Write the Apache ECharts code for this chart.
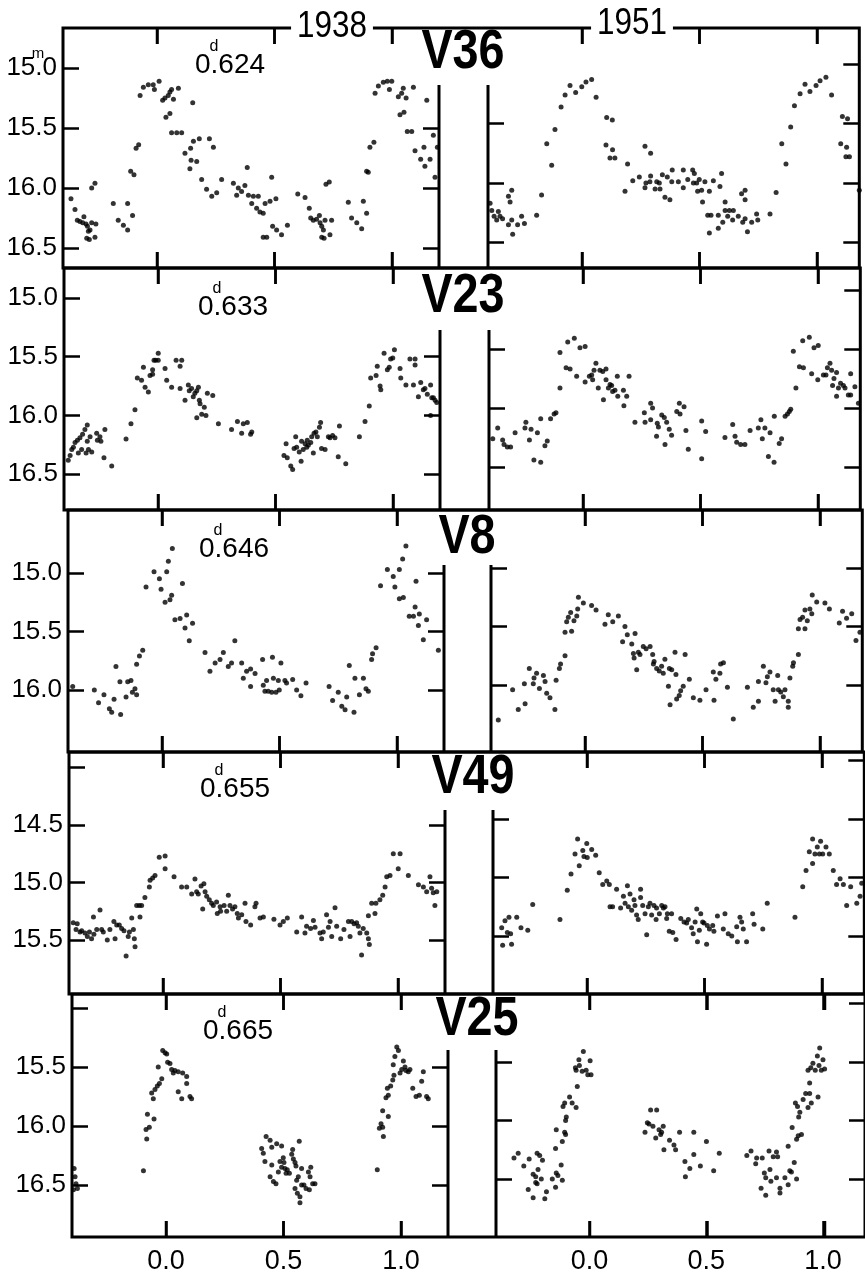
<!DOCTYPE html>
<html>
<head>
<meta charset="utf-8">
<script src="https://cdn.jsdelivr.net/npm/echarts@6/dist/echarts.min.js"></script>
<style>
  html, body { margin: 0; padding: 0; background: #fff; }
  #chart { width: 865px; height: 1282px; }
</style>
</head>
<body>
<div id="chart"></div>
<script>
// ---- data: [phase, magnitude] ----
const stars = ['V36', 'V23', 'V8', 'V49', 'V25'];
const periods = ['0.624', '0.633', '0.646', '0.655', '0.665'];
const years = ['1938', '1951'];
const phaseTicks = [0, 0.5, 1];
const phaseLabels = ['0.0', '0.5', '1.0'];
const magTicks = [[15, 15.5, 16, 16.5], [15, 15.5, 16, 16.5], [15, 15.5, 16], [14, 14.5, 15, 15.5], [15, 15.5, 16, 16.5]];
const magLabels = [[15, 15.5, 16, 16.5], [15, 15.5, 16, 16.5], [15, 15.5, 16], [14.5, 15, 15.5], [15.5, 16, 16.5]];
const gapTicks = [[15.5, 16, 16.5], [15.5, 16, 16.5], [15, 15.5, 16], [14.5, 15, 15.5], [15.5, 16, 16.5]];

const v36a = [[-0.366,16.09],[-0.349,16.18],[-0.339,16.27],[-0.328,16.28],[-0.316,16.29],[-0.311,16.24],[-0.302,16.30],[-0.296,16.32],[-0.292,16.36],[-0.285,16.35],[-0.278,16.29],[-0.260,16.30],[-0.299,16.42],[-0.288,16.43],[-0.264,16.41],[-0.278,16.00],[-0.264,15.96],[-0.186,16.13],[-0.165,16.27],[-0.143,16.31],[-0.125,16.35],[-0.125,16.13],[-0.104,16.23],[-0.112,15.86],[-0.098,15.89],[-0.089,15.67],[-0.078,15.64],[-0.072,15.23],[-0.058,15.16],[-0.037,15.14],[-0.016,15.14],[-0.011,15.18],[0.009,15.11],[0.024,15.27],[0.034,15.25],[0.048,15.23],[0.055,15.20],[0.070,15.26],[0.062,15.18],[0.091,15.17],[0.038,15.41],[0.055,15.38],[0.062,15.54],[0.084,15.54],[0.105,15.54],[0.152,15.29],[0.143,15.67],[0.155,15.61],[0.180,15.59],[0.223,15.59],[0.240,15.66],[0.119,15.71],[0.145,15.77],[0.169,15.78],[0.140,15.84],[0.190,15.93],[0.211,16.01],[0.233,16.07],[0.254,16.04],[0.275,15.93],[0.325,15.96],[0.339,16.06],[0.346,16.00],[0.360,16.03],[0.374,15.98],[0.384,15.83],[0.389,16.06],[0.410,16.07],[0.403,16.13],[0.431,16.07],[0.424,16.17],[0.438,16.20],[0.452,16.21],[0.460,16.13],[0.481,16.11],[0.488,15.91],[0.506,16.09],[0.452,16.41],[0.467,16.41],[0.492,16.32],[0.509,16.35],[0.530,16.39],[0.555,16.31],[0.599,16.05],[0.630,16.08],[0.648,16.17],[0.654,16.25],[0.665,16.27],[0.679,16.26],[0.691,16.23],[0.694,16.29],[0.701,16.32],[0.708,16.35],[0.715,16.27],[0.701,16.41],[0.711,16.42],[0.736,16.39],[0.743,16.27],[0.719,15.97],[0.733,15.95],[0.814,16.12],[0.828,16.25],[0.850,16.29],[0.871,16.34],[0.878,16.11],[0.892,16.21],[0.892,15.86],[0.899,15.87],[0.906,15.66],[0.923,15.62],[0.928,15.21],[0.942,15.15],[0.963,15.12],[0.980,15.11],[0.999,15.11],[0.989,15.18],[1.027,15.24],[1.041,15.21],[1.048,15.17],[1.060,15.25],[1.091,15.16],[1.034,15.39],[1.051,15.37],[1.065,15.53],[1.084,15.53],[1.098,15.69],[1.122,15.76],[1.140,15.82],[1.136,15.66],[1.148,15.27],[1.162,15.76],[1.176,15.56],[1.183,15.91],[1.193,15.66]];
const v36b = [[-0.391,16.17],[-0.384,16.23],[-0.374,16.28],[-0.356,16.24],[-0.349,16.28],[-0.363,16.31],[-0.338,16.30],[-0.313,16.11],[-0.299,16.06],[-0.306,16.16],[-0.313,16.35],[-0.299,16.31],[-0.295,16.43],[-0.274,16.35],[-0.257,16.28],[-0.245,16.34],[-0.193,16.27],[-0.172,16.10],[-0.129,15.85],[-0.150,15.67],[-0.115,15.55],[-0.089,15.36],[-0.072,15.26],[-0.051,15.18],[-0.027,15.24],[-0.001,15.19],[0.017,15.15],[0.041,15.13],[0.060,15.28],[0.105,15.45],[0.129,15.47],[0.102,15.68],[0.130,15.72],[0.119,15.79],[0.140,15.79],[0.194,15.84],[0.183,16.07],[0.216,15.98],[0.244,15.95],[0.268,15.69],[0.292,15.75],[0.268,16.04],[0.272,16.00],[0.289,15.99],[0.292,15.94],[0.311,16.05],[0.318,15.99],[0.329,16.00],[0.332,16.05],[0.342,15.93],[0.353,16.12],[0.363,15.95],[0.374,16.14],[0.382,15.99],[0.384,15.89],[0.410,15.99],[0.431,16.04],[0.431,15.89],[0.450,15.97],[0.471,15.89],[0.474,16.00],[0.478,15.92],[0.488,16.00],[0.499,15.97],[0.492,16.07],[0.509,16.06],[0.523,15.99],[0.542,16.07],[0.513,16.16],[0.535,16.27],[0.549,16.27],[0.559,15.98],[0.580,16.27],[0.542,16.42],[0.580,16.38],[0.587,16.03],[0.594,15.92],[0.599,16.33],[0.609,16.16],[0.609,16.23],[0.620,16.28],[0.627,16.23],[0.641,16.31],[0.644,16.23],[0.665,16.28],[0.679,16.09],[0.694,16.06],[0.694,16.14],[0.684,16.33],[0.694,16.30],[0.704,16.41],[0.722,16.33],[0.743,16.26],[0.748,16.31],[0.800,16.26],[0.826,16.08],[0.850,15.67],[0.868,15.84],[0.888,15.53],[0.904,15.35],[0.928,15.25],[0.949,15.17],[0.970,15.23],[0.996,15.18],[1.013,15.14],[1.038,15.11],[1.062,15.26],[1.108,15.44],[1.130,15.46],[1.101,15.67],[1.126,15.70],[1.123,15.78],[1.138,15.78],[1.180,16.06]];
const v23a = [[-0.382,16.38],[-0.374,16.34],[-0.367,16.29],[-0.360,16.27],[-0.353,16.23],[-0.343,16.21],[-0.332,16.19],[-0.321,16.16],[-0.311,16.12],[-0.301,16.08],[-0.339,16.32],[-0.325,16.29],[-0.306,16.32],[-0.301,16.22],[-0.289,16.18],[-0.296,16.29],[-0.282,16.31],[-0.261,16.15],[-0.258,16.21],[-0.247,16.18],[-0.243,16.22],[-0.226,16.12],[-0.230,16.36],[-0.197,16.43],[-0.136,16.20],[-0.115,16.07],[-0.098,15.95],[-0.088,15.68],[-0.070,15.70],[-0.062,15.59],[-0.055,15.76],[-0.041,15.80],[-0.034,15.66],[-0.023,15.61],[-0.017,15.53],[-0.010,15.53],[0.001,15.47],[0.001,15.53],[-0.023,15.65],[0.030,15.60],[0.037,15.70],[0.058,15.76],[0.077,15.53],[0.101,15.53],[0.094,15.58],[0.094,15.77],[0.115,15.87],[0.129,15.74],[0.133,15.79],[0.143,15.77],[0.150,15.84],[0.157,15.81],[0.165,15.79],[0.172,15.76],[0.176,15.87],[0.179,15.90],[0.165,16.02],[0.186,15.99],[0.197,15.93],[0.204,16.00],[0.210,15.81],[0.233,15.83],[0.257,16.07],[0.313,16.12],[0.338,16.05],[0.356,16.15],[0.363,16.07],[0.380,16.06],[0.394,16.16],[0.399,16.14],[0.536,16.34],[0.545,16.24],[0.550,16.36],[0.565,16.43],[0.573,16.46],[0.579,16.28],[0.586,16.18],[0.590,16.27],[0.601,16.31],[0.609,16.39],[0.611,16.22],[0.618,16.29],[0.626,16.24],[0.633,16.27],[0.635,16.21],[0.640,16.25],[0.650,16.23],[0.654,16.18],[0.661,16.32],[0.664,16.15],[0.672,16.14],[0.678,16.18],[0.687,16.10],[0.692,16.06],[0.696,16.28],[0.711,16.29],[0.725,16.18],[0.732,16.19],[0.743,16.17],[0.753,16.19],[0.772,16.09],[0.767,16.35],[0.799,16.41],[0.857,16.18],[0.881,16.05],[0.899,15.92],[0.905,15.68],[0.928,15.66],[0.933,15.58],[0.945,15.75],[0.948,15.78],[0.962,15.47],[0.976,15.61],[0.984,15.59],[0.990,15.52],[0.999,15.51],[1.006,15.44],[1.030,15.60],[1.033,15.68],[1.055,15.74],[1.072,15.52],[1.094,15.52],[1.094,15.57],[1.087,15.74],[1.108,15.84],[1.118,15.72],[1.129,15.78],[1.136,15.77],[1.146,15.82],[1.160,15.74],[1.165,15.85],[1.172,15.85],[1.179,15.87],[1.160,16.00],[1.186,15.89]];
const v23b = [[-0.384,16.26],[-0.363,16.17],[-0.342,16.27],[-0.336,16.31],[-0.322,16.33],[-0.308,16.33],[-0.289,16.21],[-0.247,16.17],[-0.243,16.12],[-0.228,16.27],[-0.221,16.18],[-0.209,16.44],[-0.194,16.21],[-0.180,16.46],[-0.180,16.09],[-0.162,16.32],[-0.152,16.28],[-0.138,16.09],[-0.123,16.05],[-0.115,16.04],[-0.098,15.83],[-0.098,15.53],[-0.072,15.66],[-0.055,15.67],[-0.065,15.44],[-0.037,15.41],[-0.027,15.73],[-0.013,15.49],[0.009,15.48],[0.009,15.78],[0.027,15.73],[0.037,15.72],[0.041,15.76],[0.055,15.62],[0.047,15.68],[0.065,15.83],[0.072,15.68],[0.087,15.93],[0.084,15.69],[0.098,15.67],[0.098,15.76],[0.108,15.83],[0.115,15.80],[0.122,15.81],[0.126,15.86],[0.136,15.85],[0.146,15.73],[0.148,15.90],[0.172,15.85],[0.174,15.98],[0.186,15.90],[0.196,15.73],[0.221,16.12],[0.261,16.04],[0.264,16.12],[0.288,15.96],[0.296,16.00],[0.288,16.10],[0.316,16.13],[0.321,16.16],[0.313,16.24],[0.335,16.06],[0.346,16.08],[0.356,16.12],[0.367,16.18],[0.349,16.31],[0.377,16.23],[0.399,16.03],[0.410,15.96],[0.413,16.05],[0.430,15.99],[0.438,16.19],[0.448,16.35],[0.505,16.11],[0.505,16.43],[0.522,16.20],[0.604,16.25],[0.637,16.14],[0.647,16.24],[0.654,16.29],[0.671,16.31],[0.689,16.31],[0.711,16.19],[0.746,16.17],[0.757,16.10],[0.763,16.26],[0.774,16.17],[0.789,16.41],[0.796,16.21],[0.813,16.46],[0.814,16.07],[0.835,16.30],[0.845,16.26],[0.860,16.07],[0.870,16.05],[0.878,16.03],[0.884,16.01],[0.895,15.52],[0.906,15.83],[0.921,15.65],[0.938,15.66],[0.935,15.43],[0.963,15.40],[0.973,15.71],[0.983,15.49],[1.001,15.47],[0.999,15.76],[1.023,15.72],[1.034,15.72],[1.040,15.66],[1.051,15.62],[1.058,15.68],[1.068,15.75],[1.079,15.70],[1.062,15.81],[1.079,15.90],[1.087,15.83],[1.096,15.79],[1.108,15.81],[1.115,15.83],[1.129,15.89],[1.139,15.71],[1.139,15.89],[1.157,15.82],[1.172,15.96],[1.182,15.89]];
const v8a = [[-0.380,15.97],[-0.288,16.00],[-0.270,16.11],[-0.247,16.04],[-0.224,16.16],[-0.214,16.19],[-0.204,16.08],[-0.196,15.80],[-0.176,16.21],[-0.179,15.93],[-0.153,16.06],[-0.146,15.93],[-0.132,15.92],[-0.126,16.02],[-0.115,15.99],[-0.108,16.04],[-0.108,15.78],[-0.096,15.71],[-0.082,15.66],[-0.068,15.12],[-0.034,14.99],[-0.011,15.05],[-0.004,15.14],[0.013,15.25],[0.020,14.99],[0.027,14.90],[0.034,15.23],[0.041,15.19],[0.044,14.79],[0.055,15.40],[0.077,15.39],[0.087,15.09],[0.098,15.47],[0.105,15.36],[0.116,15.58],[0.130,15.43],[0.183,15.68],[0.204,15.84],[0.226,15.77],[0.247,15.74],[0.261,15.68],[0.282,15.80],[0.296,15.77],[0.310,15.58],[0.339,15.77],[0.346,15.90],[0.360,15.84],[0.377,15.82],[0.377,15.97],[0.396,15.86],[0.428,15.74],[0.431,15.96],[0.438,16.01],[0.445,15.92],[0.452,16.01],[0.467,16.02],[0.474,15.90],[0.485,16.02],[0.470,15.72],[0.495,15.92],[0.506,15.77],[0.499,16.00],[0.523,15.92],[0.530,15.94],[0.556,15.91],[0.573,16.00],[0.591,16.05],[0.613,15.94],[0.711,15.97],[0.726,16.09],[0.750,16.02],[0.765,16.14],[0.786,16.06],[0.779,16.17],[0.797,15.79],[0.817,16.19],[0.821,15.90],[0.840,16.04],[0.857,15.90],[0.868,15.99],[0.878,16.01],[0.892,15.74],[0.896,15.69],[0.911,15.64],[0.930,15.11],[0.959,14.97],[0.984,15.03],[0.991,15.12],[1.010,15.22],[1.010,14.97],[1.027,15.21],[1.024,14.88],[1.038,14.77],[1.081,15.07],[1.052,15.37],[1.070,15.37],[1.077,15.29],[1.095,15.35],[1.091,15.45],[1.112,15.57],[1.126,15.40],[1.176,15.66]];
const v8b = [[-0.369,16.30],[-0.308,16.04],[-0.284,16.21],[-0.258,15.99],[-0.255,16.16],[-0.237,15.86],[-0.220,15.99],[-0.217,15.94],[-0.206,15.90],[-0.194,16.03],[-0.177,15.92],[-0.170,15.97],[-0.163,16.07],[-0.149,16.11],[-0.128,16.21],[-0.123,15.96],[-0.109,15.86],[-0.104,15.82],[-0.085,15.75],[-0.085,15.55],[-0.078,15.46],[-0.057,15.54],[-0.071,15.42],[-0.061,15.38],[-0.047,15.45],[-0.035,15.41],[-0.031,15.35],[-0.028,15.25],[-0.007,15.30],[0.028,15.32],[0.047,15.36],[0.085,15.48],[0.099,15.40],[0.118,15.46],[0.142,15.41],[0.160,15.63],[0.170,15.50],[0.180,15.57],[0.199,15.65],[0.213,15.56],[0.206,15.73],[0.209,15.77],[0.220,15.87],[0.227,15.72],[0.234,15.74],[0.248,15.67],[0.260,15.69],[0.277,15.67],[0.288,15.74],[0.294,15.80],[0.291,15.82],[0.305,15.86],[0.316,15.88],[0.326,15.84],[0.333,15.90],[0.340,15.78],[0.355,16.01],[0.359,15.86],[0.369,15.87],[0.362,16.17],[0.383,15.72],[0.387,15.91],[0.390,16.12],[0.401,16.09],[0.407,16.05],[0.418,16.01],[0.426,15.74],[0.444,15.95],[0.461,16.11],[0.489,16.13],[0.515,16.04],[0.546,15.89],[0.549,16.13],[0.557,15.95],[0.574,15.90],[0.577,15.82],[0.589,15.81],[0.606,16.02],[0.631,16.29],[0.691,16.02],[0.716,16.19],[0.738,16.14],[0.738,15.97],[0.759,15.84],[0.770,15.98],[0.776,15.93],[0.787,15.89],[0.801,16.04],[0.809,16.14],[0.820,15.92],[0.823,16.04],[0.833,16.06],[0.844,16.10],[0.851,16.04],[0.865,16.14],[0.865,16.19],[0.872,15.94],[0.884,15.84],[0.887,15.81],[0.908,15.74],[0.908,15.52],[0.915,15.44],[0.926,15.42],[0.936,15.52],[0.946,15.45],[0.936,15.36],[0.957,15.35],[0.965,15.39],[0.967,15.23],[0.986,15.29],[1.021,15.30],[1.040,15.35],[1.082,15.47],[1.096,15.37],[1.113,15.43],[1.135,15.39],[1.153,15.62],[1.170,15.55],[1.182,15.64]];
const v49a = [[-0.382,15.35],[-0.370,15.41],[-0.365,15.36],[-0.353,15.43],[-0.346,15.42],[-0.332,15.44],[-0.322,15.47],[-0.313,15.43],[-0.304,15.49],[-0.294,15.45],[-0.282,15.41],[-0.296,15.30],[-0.268,15.24],[-0.261,15.41],[-0.254,15.43],[-0.237,15.50],[-0.226,15.41],[-0.204,15.49],[-0.209,15.34],[-0.197,15.37],[-0.186,15.37],[-0.176,15.40],[-0.166,15.42],[-0.157,15.64],[-0.148,15.47],[-0.143,15.43],[-0.133,15.31],[-0.126,15.41],[-0.122,15.49],[-0.119,15.56],[-0.112,15.20],[-0.101,15.20],[-0.091,15.20],[-0.098,15.30],[-0.077,15.13],[-0.058,15.04],[-0.044,14.96],[-0.034,14.94],[-0.055,14.98],[-0.016,14.78],[0.009,14.77],[0.009,14.88],[0.047,14.95],[0.079,15.04],[0.101,15.04],[0.122,15.10],[0.136,14.97],[0.143,15.08],[0.150,15.10],[0.162,15.03],[0.174,15.01],[0.169,15.23],[0.179,15.08],[0.186,15.12],[0.197,15.15],[0.207,15.18],[0.214,15.20],[0.228,15.17],[0.231,15.27],[0.243,15.21],[0.245,15.25],[0.260,15.20],[0.271,15.25],[0.278,15.11],[0.285,15.20],[0.296,15.23],[0.306,15.21],[0.316,15.27],[0.321,15.31],[0.335,15.28],[0.349,15.18],[0.353,15.34],[0.373,15.37],[0.391,15.21],[0.396,15.18],[0.413,15.31],[0.427,15.30],[0.472,15.32],[0.498,15.37],[0.512,15.34],[0.529,15.31],[0.569,15.43],[0.590,15.30],[0.604,15.44],[0.611,15.38],[0.628,15.40],[0.640,15.33],[0.647,15.39],[0.668,15.44],[0.675,15.49],[0.682,15.43],[0.696,15.28],[0.704,15.39],[0.711,15.34],[0.718,15.47],[0.732,15.22],[0.739,15.38],[0.756,15.49],[0.770,15.41],[0.789,15.34],[0.796,15.47],[0.803,15.34],[0.813,15.36],[0.824,15.35],[0.831,15.38],[0.838,15.44],[0.845,15.63],[0.852,15.40],[0.867,15.44],[0.874,15.49],[0.878,15.54],[0.874,15.29],[0.888,15.18],[0.902,15.27],[0.906,15.18],[0.923,15.15],[0.935,15.11],[0.945,15.04],[0.952,14.95],[0.966,14.94],[0.980,14.75],[1.001,14.88],[1.009,14.75],[1.044,14.94],[1.087,15.02],[1.108,15.04],[1.122,15.08],[1.136,14.95],[1.143,15.05],[1.157,15.20],[1.150,15.09],[1.165,15.08]];
const v49b = [[-0.363,15.43],[-0.359,15.58],[-0.349,15.37],[-0.339,15.47],[-0.332,15.34],[-0.325,15.48],[-0.321,15.57],[-0.299,15.34],[-0.281,15.43],[-0.252,15.45],[-0.231,15.23],[-0.115,15.36],[-0.084,15.11],[-0.068,14.97],[-0.051,14.80],[-0.040,14.67],[-0.033,14.90],[-0.018,14.77],[-0.013,14.82],[-0.001,14.71],[0.001,14.83],[0.020,14.76],[0.037,14.81],[0.052,14.96],[0.067,15.06],[0.084,15.03],[0.095,15.06],[0.098,15.25],[0.109,15.25],[0.126,15.10],[0.143,15.26],[0.155,15.16],[0.162,15.22],[0.172,15.07],[0.176,15.25],[0.183,15.14],[0.190,15.28],[0.200,15.19],[0.204,15.24],[0.211,15.32],[0.218,15.36],[0.228,15.10],[0.228,15.17],[0.237,15.24],[0.247,15.31],[0.254,15.49],[0.261,15.25],[0.268,15.22],[0.275,15.32],[0.285,15.24],[0.294,15.36],[0.296,15.26],[0.308,15.31],[0.318,15.24],[0.325,15.26],[0.332,15.25],[0.339,15.35],[0.342,15.31],[0.350,15.46],[0.360,15.31],[0.365,15.47],[0.379,15.53],[0.399,15.35],[0.413,15.38],[0.424,15.39],[0.431,15.36],[0.445,15.43],[0.452,15.48],[0.460,15.38],[0.467,15.27],[0.470,15.55],[0.478,15.45],[0.484,15.31],[0.492,15.38],[0.498,15.39],[0.509,15.57],[0.512,15.41],[0.521,15.44],[0.535,15.41],[0.540,15.46],[0.555,15.33],[0.580,15.44],[0.587,15.31],[0.601,15.48],[0.616,15.50],[0.640,15.55],[0.637,15.42],[0.651,15.34],[0.658,15.38],[0.665,15.44],[0.679,15.55],[0.705,15.31],[0.711,15.40],[0.748,15.44],[0.767,15.22],[0.885,15.34],[0.918,15.08],[0.932,14.94],[0.946,14.78],[0.960,14.67],[0.960,14.88],[0.970,14.80],[0.980,14.74],[0.989,14.80],[0.994,14.69],[1.003,14.80],[1.017,14.74],[1.031,14.80],[1.048,14.94],[1.062,15.06],[1.077,15.01],[1.091,15.06],[1.105,15.24],[1.122,15.08],[1.148,15.22],[1.162,15.16],[1.169,15.05]];
const v25a = [[-0.391,16.36],[-0.387,16.43],[-0.383,16.49],[-0.377,16.53],[-0.394,16.54],[-0.096,16.38],[-0.082,16.11],[-0.079,15.90],[-0.085,16.03],[-0.071,16.01],[-0.051,15.94],[-0.054,15.77],[-0.061,15.72],[-0.047,15.69],[-0.037,15.66],[-0.028,15.64],[-0.018,15.60],[-0.033,15.50],[-0.014,15.36],[-0.004,15.38],[0.003,15.39],[0.007,15.46],[0.017,15.47],[0.024,15.52],[0.031,15.55],[0.038,15.53],[0.052,15.54],[0.071,15.55],[0.088,15.58],[0.052,15.71],[0.088,15.64],[0.067,15.77],[0.109,15.77],[0.102,15.75],[0.407,16.19],[0.414,16.23],[0.421,16.30],[0.426,16.09],[0.443,16.12],[0.450,16.18],[0.471,16.15],[0.492,16.17],[0.443,16.43],[0.450,16.33],[0.457,16.47],[0.468,16.49],[0.478,16.39],[0.485,16.30],[0.492,16.35],[0.499,16.27],[0.502,16.31],[0.506,16.36],[0.511,16.40],[0.516,16.37],[0.525,16.40],[0.535,16.24],[0.542,16.28],[0.549,16.31],[0.553,16.34],[0.539,16.20],[0.567,16.13],[0.563,16.43],[0.577,16.36],[0.556,16.46],[0.549,16.53],[0.559,16.57],[0.570,16.60],[0.577,16.50],[0.587,16.50],[0.596,16.53],[0.606,16.39],[0.613,16.43],[0.616,16.35],[0.624,16.49],[0.634,16.49],[0.610,16.54],[0.570,16.65],[0.899,16.37],[0.908,16.02],[0.915,15.98],[0.922,16.01],[0.925,16.09],[0.946,15.92],[0.922,15.87],[0.936,15.76],[0.946,15.74],[0.942,15.68],[0.956,15.66],[0.965,15.61],[0.970,15.57],[0.967,15.48],[0.974,15.41],[0.982,15.33],[0.989,15.36],[0.996,15.55],[1.003,15.52],[1.010,15.45],[1.017,15.50],[1.021,15.53],[1.031,15.54],[1.038,15.52],[1.050,15.68],[1.064,15.75],[1.078,15.74],[1.088,15.62],[1.095,15.54],[1.109,15.75],[1.116,15.77]];
const v25b = [[-0.323,16.32],[-0.305,16.28],[-0.281,16.39],[-0.258,16.33],[-0.241,16.46],[-0.241,16.66],[-0.262,16.59],[-0.230,16.48],[-0.230,16.53],[-0.224,16.28],[-0.220,16.42],[-0.213,16.30],[-0.206,16.50],[-0.224,16.54],[-0.201,16.34],[-0.191,16.67],[-0.184,16.61],[-0.159,16.50],[-0.142,16.45],[-0.145,16.57],[-0.135,16.47],[-0.121,16.38],[-0.116,16.51],[-0.145,16.24],[-0.142,16.08],[-0.116,16.18],[-0.106,16.10],[-0.102,16.12],[-0.099,15.97],[-0.102,16.00],[-0.113,15.88],[-0.106,15.85],[-0.085,15.80],[-0.074,15.85],[-0.057,15.89],[-0.052,15.71],[-0.060,15.55],[-0.057,15.57],[-0.043,15.53],[-0.045,15.48],[-0.031,15.58],[-0.026,15.41],[-0.014,15.57],[-0.007,15.61],[0.007,15.61],[0.003,15.49],[0.238,16.10],[0.248,16.02],[0.262,15.91],[0.288,15.91],[0.255,16.03],[0.272,16.05],[0.284,16.15],[0.298,16.08],[0.309,16.10],[0.305,16.12],[0.316,16.05],[0.319,16.25],[0.343,16.17],[0.362,16.21],[0.369,16.25],[0.386,16.10],[0.409,16.35],[0.411,16.48],[0.430,16.41],[0.447,16.10],[0.447,16.29],[0.475,16.39],[0.501,16.18],[0.532,16.43],[0.556,16.28],[0.674,16.30],[0.692,16.26],[0.712,16.37],[0.716,16.32],[0.735,16.58],[0.740,16.32],[0.755,16.64],[0.749,16.45],[0.755,16.49],[0.769,16.26],[0.773,16.42],[0.777,16.52],[0.787,16.31],[0.801,16.27],[0.806,16.31],[0.801,16.49],[0.816,16.58],[0.816,16.62],[0.837,16.49],[0.851,16.55],[0.851,16.22],[0.858,16.43],[0.868,16.06],[0.865,16.44],[0.877,16.36],[0.887,16.50],[0.894,16.13],[0.887,16.16],[0.908,16.12],[0.896,15.97],[0.901,15.93],[0.882,15.85],[0.891,15.88],[0.915,15.82],[0.926,15.77],[0.936,15.89],[0.943,15.77],[0.950,15.85],[0.979,15.80],[0.943,15.68],[0.936,15.57],[0.948,15.55],[0.957,15.51],[0.967,15.57],[0.976,15.45],[0.983,15.53],[0.993,15.57],[1.007,15.56],[0.986,15.38],[1.000,15.48]];

const data1938 = [v36a, v23a, v8a, v49a, v25a];
const data1951 = [v36b, v23b, v8b, v49b, v25b];

// ---- layout (pixels) ----
const UNIT = 235;                 // px per unit of phase
const PH_MIN = -0.4, PH_MAX_L = 1.2, PH_MAX_R = 1.18;
const TICK = 16;
const rowTop = [28, 268, 510, 752, 994];
const rowBottom = [268, 510, 752, 994, 1237];
const zeroL = [157, 158, 162, 163, 166];
const zeroR = [582, 583, 585, 587, 590];
const gapTop = [85, 330, 565, 810, 1050];
const magRangeL = [[14.667, 16.667], [14.745, 16.804], [14.462, 16.530], [13.865, 15.970], [14.881, 16.941]];
const magRangeR = [[14.697, 16.714], [14.814, 16.864], [14.504, 16.573], [13.927, 15.996], [14.919, 16.996]];
const starPos = [[463, 53], [463, 297], [467, 538], [473, 778], [477, 1020]];
const periodPos = [[195, 65], [198, 307], [199, 549], [200, 789], [203, 1031]];
const yearPos = [[332, 27], [632, 24]];

const SANS = "'Liberation Sans', Arial, sans-serif";

const tick = values => ({ show: true, inside: true, length: TICK, customValues: values.slice(), lineStyle: { color: '#000', width: 2.5 } });
const phaseText = v => phaseLabels[phaseTicks.findIndex(t => Math.abs(t - v) < 1e-6)] || '';

const grids = [], xAxes = [], yAxes = [], series = [], graphics = [];

for (let r = 0; r < 5; r++) {
  const top = rowTop[r], bottom = rowBottom[r], height = bottom - top;
  const panels = [
    { zero: zeroL[r], max: PH_MAX_L, mag: magRangeL[r], data: data1938[r],
      leftTicks: magTicks[r], leftLabels: magLabels[r], rightTicks: gapTicks[r] },
    { zero: zeroR[r], max: PH_MAX_R, mag: magRangeR[r], data: data1951[r],
      leftTicks: gapTicks[r], leftLabels: null, rightTicks: magTicks[r] }
  ];
  panels.forEach(p => {
    const g = grids.length;
    grids.push({ left: p.zero + PH_MIN * UNIT, top, width: (p.max - PH_MIN) * UNIT, height });
    const xi = xAxes.length, yi = yAxes.length;
    ['bottom', 'top'].forEach(pos => xAxes.push({
      gridIndex: g, type: 'value', position: pos, min: PH_MIN, max: p.max,
      axisLine: { show: false, onZero: false }, splitLine: { show: false },
      axisTick: tick(phaseTicks),
      axisLabel: (pos === 'bottom' && r === 4) ? {
        show: true, customValues: phaseTicks.slice(), formatter: phaseText,
        color: '#000', fontSize: 27, fontFamily: SANS, margin: 11
      } : { show: false }
    }));
    ['left', 'right'].forEach(pos => {
      const labels = pos === 'left' ? p.leftLabels : null;
      yAxes.push({
        gridIndex: g, type: 'value', position: pos, inverse: true, min: p.mag[0], max: p.mag[1],
        axisLine: { show: false, onZero: false }, splitLine: { show: false },
        axisTick: tick(pos === 'left' ? p.leftTicks : p.rightTicks),
        axisLabel: labels ? {
          show: true, customValues: labels.slice(), formatter: v => v.toFixed(1),
          color: '#000', fontSize: 26, fontFamily: SANS, margin: 6
        } : { show: false }
      });
    });
    series.push({
      type: 'scatter', xAxisIndex: xi, yAxisIndex: yi, data: p.data,
      symbolSize: 5, itemStyle: { color: '#000' }, silent: true
    });

    // inward phase ticks on the plate's top and bottom edges (same px-per-phase as the x axis)
    phaseTicks.forEach(v => {
      const x = p.zero + v * UNIT;
      [[top, top + TICK], [bottom - TICK, bottom]].forEach(([y1, y2]) => graphics.push({
        type: 'rect', z: 55,
        shape: { x: x - 1.25, y: y1, width: 2.5, height: y2 - y1 },
        style: { fill: '#000' }
      }));
    });
  });

  // outer frame of the row, spanning both plates and the gap
  const fl = zeroL[r] + PH_MIN * UNIT;
  const fg = grids.length;
  grids.push({ left: fl, top, width: zeroR[r] + PH_MAX_R * UNIT - fl, height,
    show: true, borderColor: '#000', borderWidth: 3, backgroundColor: 'transparent' });
  xAxes.push({ gridIndex: fg, type: 'value', show: false, min: 0, max: 1 });
  yAxes.push({ gridIndex: fg, type: 'value', show: false, min: 0, max: 1 });

  // the two lines bounding the gap between the plates
  [zeroL[r] + PH_MAX_L * UNIT, zeroR[r] + PH_MIN * UNIT].forEach(x => graphics.push({
    type: 'line', z: 50, shape: { x1: x, y1: gapTop[r], x2: x, y2: bottom },
    style: { stroke: '#000', lineWidth: 3 }
  }));

  graphics.push({
    type: 'text', z: 60, x: starPos[r][0], y: starPos[r][1], scaleX: 0.85,
    style: { text: stars[r], font: 'bold 55px ' + SANS, fill: '#000',
      align: 'center', verticalAlign: 'middle', textAlign: 'center', textVerticalAlign: 'middle' }
  });
  graphics.push({
    type: 'text', z: 60, x: periodPos[r][0], y: periodPos[r][1],
    style: { text: periods[r], font: '28px ' + SANS, fill: '#000',
      align: 'left', verticalAlign: 'middle', textAlign: 'left', textVerticalAlign: 'middle' }
  });
  graphics.push({
    type: 'text', z: 60, x: periodPos[r][0] + 19, y: periodPos[r][1] - 18,
    style: { text: 'd', font: '16px ' + SANS, fill: '#000',
      align: 'center', verticalAlign: 'middle', textAlign: 'center', textVerticalAlign: 'middle' }
  });
}

years.forEach((t, i) => graphics.push({
  type: 'text', z: 70, x: yearPos[i][0], y: yearPos[i][1], scaleX: 0.85,
  style: { text: t, font: '37px ' + SANS, fill: '#000', backgroundColor: '#fff', padding: [0, 7],
    align: 'center', verticalAlign: 'middle', textAlign: 'center', textVerticalAlign: 'middle' }
}));
graphics.push({
  type: 'text', z: 60, x: 38, y: 54,
  style: { text: 'm', font: '15px ' + SANS, fill: '#000',
    align: 'center', verticalAlign: 'middle', textAlign: 'center', textVerticalAlign: 'middle' }
});

const chart = echarts.init(document.getElementById('chart'));
chart.setOption({
  animation: false,
  backgroundColor: '#fff',
  grid: grids,
  xAxis: xAxes,
  yAxis: yAxes,
  series,
  graphic: graphics
});
</script>
</body>
</html>
